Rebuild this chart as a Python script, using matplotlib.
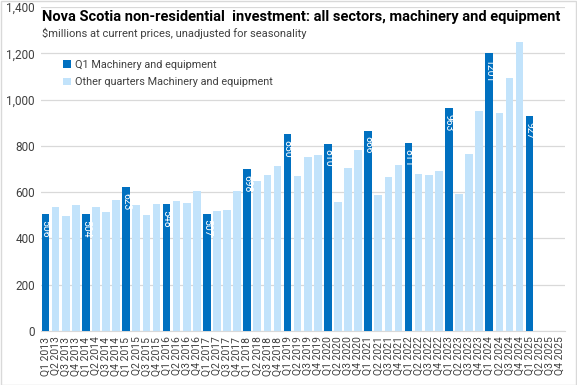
import numpy as np
import matplotlib.pyplot as plt
from matplotlib.patches import Rectangle

years = list(range(2013, 2026))
quarters = [f"Q{q} {y}" for y in years for q in range(1, 5)]

# Q1 values (one per year)
q1_values = [506, 504, 623, 548, 507, 698, 850, 810, 866, 811, 963, 1201, 927]

# Q2, Q3, Q4 values per year
other_values = [
    [536, 497, 545],    # 2013
    [536, 514, 566],    # 2014
    [545, 501, 549],    # 2015
    [562, 553, 605],    # 2016
    [518, 523, 605],    # 2017
    [648, 674, 713],    # 2018
    [671, 753, 762],    # 2019
    [557, 706, 782],    # 2020
    [588, 667, 717],    # 2021
    [678, 674, 691],    # 2022
    [592, 765, 952],    # 2023
    [942, 1093, 1249],  # 2024
    [None, None, None], # 2025
]

dark = "#0070C0"
light = "#C2E3FB"

n = len(quarters)
x = np.arange(n)
q1_series = np.full(n, np.nan)
other_series = np.full(n, np.nan)
for i, y in enumerate(years):
    q1_series[i * 4] = q1_values[i]
    for j, v in enumerate(other_values[i]):
        if v is not None:
            other_series[i * 4 + j + 1] = v

plt.rcParams['font.family'] = ['Roboto', 'DejaVu Sans']

fig = plt.figure(figsize=(5.77, 3.85), dpi=100)
ax = fig.add_axes([0.0702, 0.1403, 0.9088, 0.8415])

w = 0.76
ax.bar(x, q1_series, width=w, color=dark, label="Q1 Machinery and equipment", zorder=3)
ax.bar(x, other_series, width=w, color=light, label="Other quarters Machinery and equipment", zorder=3)

for xi, v in zip(x, q1_series):
    if not np.isnan(v):
        ax.text(xi, v - 25, str(int(v)), rotation=270, ha="center", va="top",
                color="white", fontsize=7.5, zorder=4)

ax.set_xlim(-0.5, n - 0.5)
ax.set_ylim(0, 1400)
ax.set_yticks(range(0, 1401, 200))
ax.set_yticklabels([f"{v:,}" for v in range(0, 1401, 200)], fontsize=8.5, color="#404040")
ax.set_xticks(x)
ax.set_xticklabels(quarters, rotation=90, fontsize=7.5, color="#404040")
ax.tick_params(axis="both", length=0, pad=4)
ax.grid(axis="y", color="#D9D9D9", linewidth=0.9, zorder=0)
for s in ["top", "right", "left"]:
    ax.spines[s].set_visible(False)
ax.spines["bottom"].set_color("#D9D9D9")

fig.text(0.073, 0.955, "Nova Scotia non-residential  investment: all sectors, machinery and equipment",
         fontsize=10.5, fontweight="bold", color="black", va="center")
fig.text(0.073, 0.913, "$millions at current prices, unadjusted for seasonality",
         fontsize=8, color="#404040", va="center")

leg = ax.legend(loc="upper left", bbox_to_anchor=(0.025, 0.868), frameon=False, fontsize=7.8,
                handlelength=0.7, handleheight=0.7, handletextpad=0.4, labelspacing=0.7)
for t in leg.get_texts():
    t.set_color("#404040")

fig.patches.append(Rectangle((0.001, 0.001), 0.997, 0.997, transform=fig.transFigure,
                             fill=False, edgecolor="#D9D9D9", linewidth=1))

fig.savefig("out.png", dpi=100)
